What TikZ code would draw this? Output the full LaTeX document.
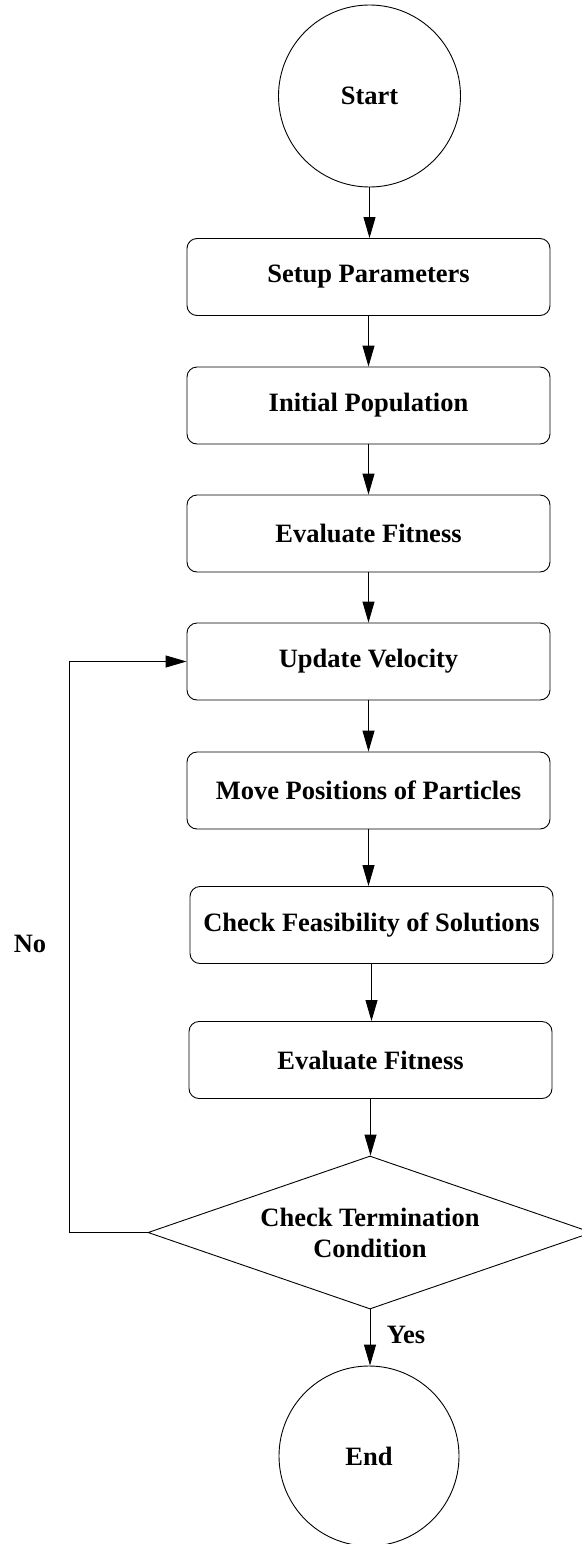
\documentclass[tikz,border=0pt]{standalone}
\usepackage{fontspec}
\setmainfont{Liberation Serif}
\usetikzlibrary{shapes.geometric,arrows.meta}

\begin{document}
\begin{tikzpicture}[x=1pt,y=-1pt,
  every node/.style={font=\fontsize{26.5}{31}\selectfont\bfseries},
  flowline/.style={line width=0.9pt},
  flowarrow/.style={flowline,-{Triangle[length=21pt,width=12pt]}},
  terminal/.style={circle,draw,line width=0.9pt,minimum size=182pt,inner sep=0pt},
  procbox/.style={rectangle,draw,line width=0.9pt,rounded corners=10pt,
    minimum width=363pt,minimum height=77pt,inner sep=0pt},
  decision/.style={diamond,draw,line width=0.9pt,aspect=2.9,
    minimum width=444pt,minimum height=153pt,inner sep=0pt,align=center}]

  \useasboundingbox (0,0) rectangle (581,1544);

  % terminals
  \node[terminal] (start) at (369.5,96) {Start};
  \node[terminal,minimum size=180pt] (end) at (369,1456) {End};

  % process steps
  \node[procbox] (setup)  at (368.5,277)   {Setup Parameters};
  \node[procbox] (init)   at (368.5,405.5) {Initial Population};
  \node[procbox] (eval1)  at (368.5,533.5) {Evaluate Fitness};
  \node[procbox] (vel)    at (368.5,661.5) {Update Velocity};
  \node[procbox] (move)   at (368.5,790.5) {Move Positions of Particles};
  \node[procbox] (feas)   at (371.5,925)   {Check Feasibility of Solutions};
  \node[procbox] (eval2)  at (370.5,1060)  {Evaluate Fitness};

  % termination test
  \node[decision] (term) at (370,1232.5) {Check Termination\\Condition};

  % main flow
  \draw[flowarrow] (start.south) -- (start.south |- setup.north);
  \draw[flowarrow] (setup.south) -- (setup.south |- init.north);
  \draw[flowarrow] (init.south)  -- (init.south |- eval1.north);
  \draw[flowarrow] (eval1.south) -- (eval1.south |- vel.north);
  \draw[flowarrow] (vel.south)   -- (vel.south |- move.north);
  \draw[flowarrow] (move.south)  -- (move.south |- feas.north);
  \draw[flowarrow] (feas.south)  -- (feas.south |- eval2.north);
  \draw[flowarrow] (eval2.south) -- (eval2.south |- term.north);
  \draw[flowarrow] (term.south)  -- (term.south |- end.north)
    node[midway,right=13pt,yshift=3pt] (yes) {Yes};

  % loop back when not terminated
  \coordinate (loopx) at (69,0);
  \draw[flowarrow] (term.west) -- (loopx |- term.west) -- (loopx |- vel.west) -- (vel.west);
  \node (no) at (30,944) {No};
\end{tikzpicture}
\end{document}
